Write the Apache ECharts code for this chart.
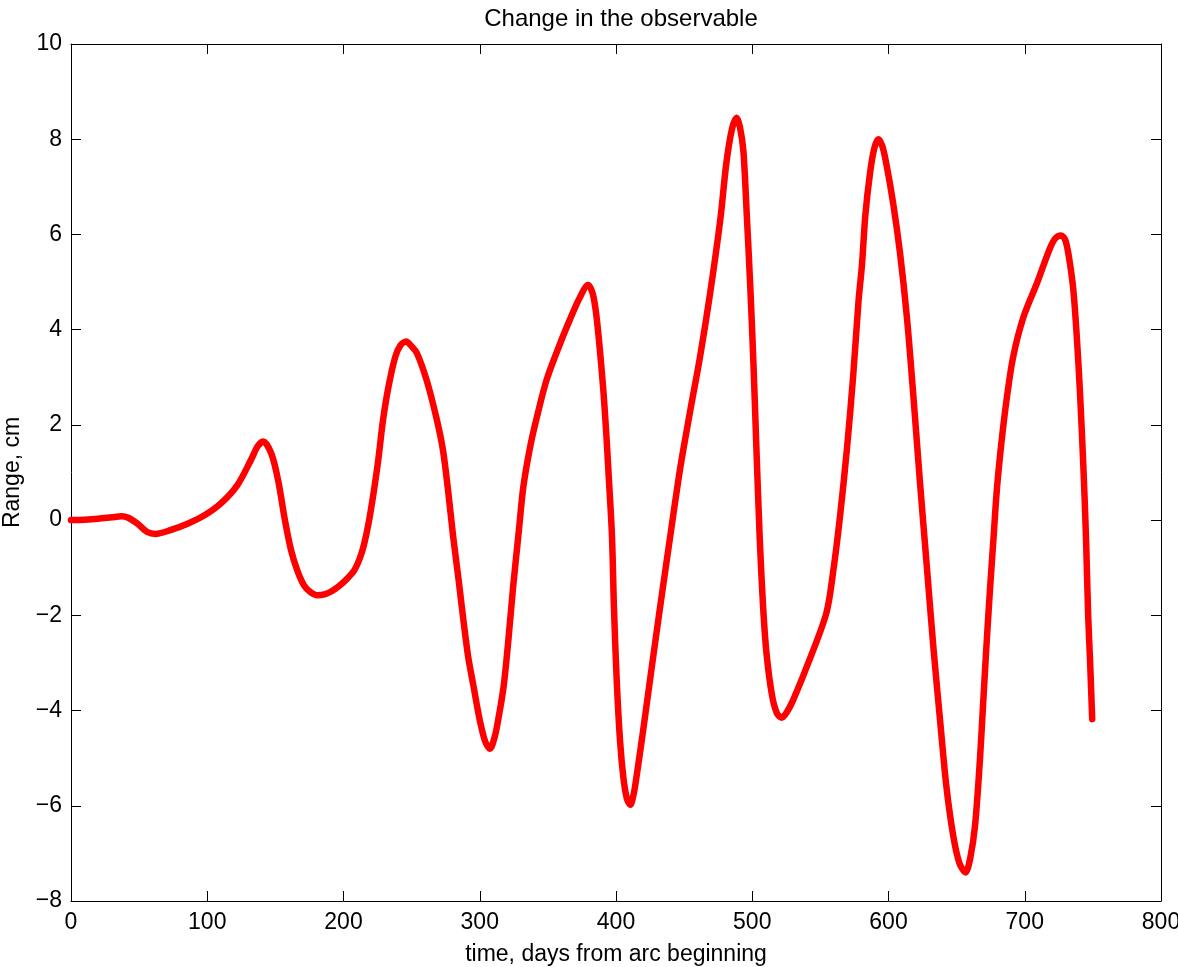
<!DOCTYPE html>
<html>
<head>
<meta charset="utf-8">
<title>Change in the observable</title>
<script src="https://cdn.jsdelivr.net/npm/echarts@6/dist/echarts.min.js"></script>
<style>
  html, body { margin: 0; padding: 0; background: #ffffff; }
  #chart { width: 1178px; height: 967px; }
</style>
</head>
<body>
<div id="chart"></div>
<script>
// Time since start of the arc, days
const days = [
  0, 10, 20, 30, 37, 42, 49, 56, 62, 73, 86, 98, 110, 122, 132, 137, 141, 147, 152, 157,
  161.5, 166, 171, 176, 181, 186, 191, 197, 203, 208, 212, 215, 218.5, 222, 225.5, 229, 233, 238, 242, 246, 250,
  254, 261, 268, 273, 277, 280.5, 284.5, 288, 291.5, 295.5, 300, 304, 307.5, 311, 313.5, 317.5, 321, 324.5, 328.5, 332,
  337, 342, 349, 359, 366, 373, 379.5, 383, 386, 390.5, 393, 394.5, 397, 398.5, 400.5, 403, 405.5, 408, 410.5, 413,
  415, 420, 425, 432, 439.5, 447, 454.5, 461.5, 469, 476.5, 481, 485, 488.5, 491, 493.5, 496, 498.5, 501, 503, 505.5,
  508, 510.5, 514.5, 518, 521.5, 525, 530, 542.5, 554.5, 559.5, 564.5, 569.5, 574, 578, 580.5, 583, 586.5, 589.5, 592.5, 595.5,
  598.5, 603.5, 608.5, 613.5, 618, 623, 628, 633, 638, 642.5, 647.5, 652, 656.5, 660, 663.5, 667, 669.5, 672, 674.5, 677,
  679.5, 683, 687, 691.5, 699, 709, 718.5, 722.5, 726.5, 729.5, 732, 735.5, 738, 740.5, 743, 745, 746.5, 748, 749.5
];

// Change in range, cm
const rangeCm = [
  0, 0.01, 0.03, 0.06, 0.08, 0.05, -0.08, -0.25, -0.29, -0.21, -0.07, 0.1, 0.35, 0.73, 1.26, 1.55, 1.65, 1.4, 0.84, 0.0,
  -0.63, -1.05, -1.37, -1.52, -1.58, -1.56, -1.5, -1.38, -1.22, -1.05, -0.8, -0.52, -0.05, 0.56, 1.26, 2.1, 2.8, 3.43, 3.68, 3.75, 3.65,
  3.5, 2.94, 2.17, 1.47, 0.56, -0.35, -1.26, -2.1, -2.87, -3.5, -4.2, -4.65, -4.8, -4.55, -4.2, -3.5, -2.52, -1.4, -0.28, 0.7,
  1.54, 2.17, 2.94, 3.71, 4.2, 4.65, 4.94, 4.75, 4.2, 2.8, 1.75, 1.0, -0.3, -1.84, -3.35, -4.65, -5.43, -5.85, -5.98, -5.75,
  -5.4, -4.4, -3.35, -1.9, -0.4, 1.07, 2.3, 3.4, 4.75, 6.3, 7.5, 8.2, 8.45, 8.25, 7.75, 6.4, 4.94, 3.2, 1.55, -0.39,
  -1.84, -2.81, -3.68, -4.05, -4.15, -4.05, -3.78, -2.9, -1.94, -1.06, 0.1, 1.5, 3.0, 4.6, 5.35, 6.4, 7.3, 7.8, 8.0, 7.85,
  7.47, 6.64, 5.6, 4.26, 2.7, 0.83, -0.93, -2.69, -4.25, -5.6, -6.63, -7.2, -7.4, -7.1, -6.42, -5.08, -3.83, -2.59, -1.45, -0.41,
  0.63, 1.66, 2.6, 3.43, 4.26, 4.98, 5.71, 5.92, 5.98, 5.9, 5.6, 4.88, 3.94, 2.7, 1.14, -0.41, -1.97, -3.0, -4.18
];

// Axis ranges and tick spacing
const xTicks = { min: 0, max: 800, interval: 100 };
const yTicks = { min: -8, max: 10, interval: 2 };

const titleText = 'Change in the observable';
const xLabel = 'time, days from arc beginning';
const yLabel = 'Range, cm';

const FONT = '"Liberation Sans", Arial, Helvetica, sans-serif';
const fmtNum = v => String(v).replace('-', '\u2212');

const points = days.map((d, i) => [d, rangeCm[i]]);

const boxLine = { show: true, onZero: false, lineStyle: { color: '#000', width: 1 } };
const innerTicks = { show: true, inside: true, length: 10, lineStyle: { color: '#000', width: 1 } };

const chart = echarts.init(document.getElementById('chart'), null, { renderer: 'canvas' });
chart.setOption({
  backgroundColor: '#ffffff',
  animation: false,
  title: {
    text: titleText,
    left: 616,
    textAlign: 'center',
    top: 2,
    textStyle: { fontFamily: FONT, fontSize: 24, fontWeight: 'normal', color: '#000' }
  },
  grid: { left: 71, right: 17, top: 44, bottom: 66, outerBoundsMode: 'none', containLabel: false },
  xAxis: [
    {
      type: 'value', position: 'bottom',
      min: xTicks.min, max: xTicks.max, interval: xTicks.interval,
      name: xLabel, nameLocation: 'middle', nameGap: 42,
      nameTextStyle: { fontFamily: FONT, fontSize: 23, color: '#000' },
      axisLine: boxLine, axisTick: innerTicks,
      axisLabel: { margin: 10, fontFamily: FONT, fontSize: 23, color: '#000', formatter: fmtNum },
      splitLine: { show: false }
    },
    {
      type: 'value', position: 'top',
      min: xTicks.min, max: xTicks.max, interval: xTicks.interval,
      axisLine: boxLine, axisTick: innerTicks,
      axisLabel: { show: false }, splitLine: { show: false }
    }
  ],
  yAxis: [
    {
      type: 'value', position: 'left',
      min: yTicks.min, max: yTicks.max, interval: yTicks.interval,
      name: yLabel, nameLocation: 'middle', nameGap: 47, nameRotate: 90,
      nameTextStyle: { fontFamily: FONT, fontSize: 23, color: '#000' },
      axisLine: boxLine, axisTick: innerTicks,
      axisLabel: { margin: 9, fontFamily: FONT, fontSize: 23, color: '#000', formatter: fmtNum },
      splitLine: { show: false }
    },
    {
      type: 'value', position: 'right',
      min: yTicks.min, max: yTicks.max, interval: yTicks.interval,
      axisLine: boxLine, axisTick: innerTicks,
      axisLabel: { show: false }, splitLine: { show: false }
    }
  ],
  series: [
    {
      type: 'line',
      xAxisIndex: 0,
      yAxisIndex: 0,
      data: points,
      showSymbol: false,
      smooth: 0.3,
      clip: true,
      lineStyle: { color: '#ff0000', width: 6.5, cap: 'round', join: 'round' }
    }
  ]
});
</script>
</body>
</html>
